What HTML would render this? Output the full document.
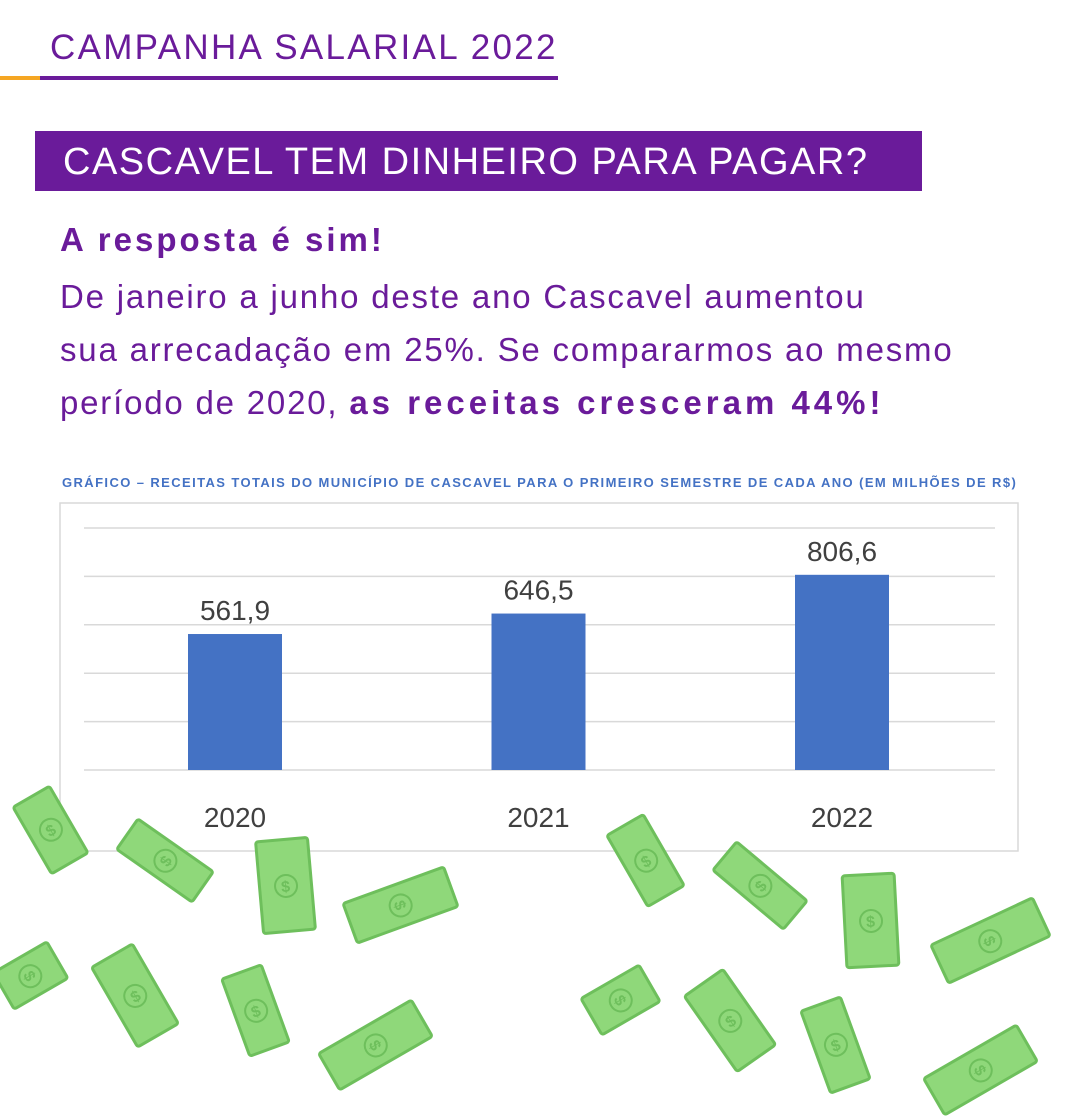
<!DOCTYPE html>
<html><head><meta charset="utf-8"><style>
body{margin:0;width:1080px;height:1080px;background:#fff;position:relative;overflow:hidden;font-family:"Liberation Sans",sans-serif}
.abs{position:absolute}
.bill{position:absolute;background:#8fd87a;border:3px solid #6ebf5c;border-radius:4px;box-sizing:border-box}
.bill::after{content:"$";position:absolute;left:50%;top:50%;width:24px;height:24px;margin:-12px 0 0 -12px;border:2px solid #6ebf5c;border-radius:50%;color:#6ebf5c;font:bold 16px "Liberation Sans";text-align:center;line-height:24px;box-sizing:border-box}
</style></head><body>
<div class="abs" style="left:50px;top:28px;font-size:35px;color:#6a1b9a;letter-spacing:2.3px">CAMPANHA SALARIAL 2022</div>
<div class="abs" style="left:0;top:76px;width:40px;height:4px;background:#f5a623"></div>
<div class="abs" style="left:40px;top:76px;width:518px;height:4px;background:#6a1b9a"></div>
<div class="abs" style="left:35px;top:131px;width:887px;height:60px;background:#6a1b9a;color:#fff;font-size:38px;line-height:62px;padding-left:28px;box-sizing:border-box;letter-spacing:1.5px;white-space:nowrap">CASCAVEL TEM DINHEIRO PARA PAGAR?</div>
<div class="abs" style="left:60px;top:221px;font-size:33px;font-weight:bold;color:#6a1b9a;letter-spacing:3px">A resposta é sim!</div>
<div class="abs" style="left:60px;top:270px;font-size:33px;line-height:53px;color:#6a1b9a;width:1020px;letter-spacing:1.8px;white-space:nowrap">De janeiro a junho deste ano Cascavel aumentou<br>sua arrecadação em 25%. Se compararmos ao mesmo<br>período de 2020, <b style="letter-spacing:4px">as receitas cresceram 44%!</b></div>
<div class="abs" style="left:62px;top:475px;font-size:13px;font-weight:bold;color:#4472c4;white-space:nowrap;letter-spacing:1.4px">GRÁFICO – RECEITAS TOTAIS DO MUNICÍPIO DE CASCAVEL PARA O PRIMEIRO SEMESTRE DE CADA ANO (EM MILHÕES DE R$)</div>
<svg class="abs" style="left:0;top:0" width="1080" height="1080" id="chart">
<rect x="60" y="503" width="958" height="348" fill="#fff" stroke="#d9d9d9" stroke-width="1.5"/>
</svg>
<div id="bills"></div>
<script>
const categories=["2020","2021","2022"];
const values=[561.9,646.5,806.6];
const valueLabels=["561,9","646,5","806,6"];
const gridTicks=[0,200,400,600,800,1000];
const svg=document.getElementById('chart');const NS='http://www.w3.org/2000/svg';
const y=v=>770-v*0.242;const x=i=>235+i*303.5;
function mk(t,a){const e=document.createElementNS(NS,t);for(const k in a)e.setAttribute(k,a[k]);svg.appendChild(e);return e;}
gridTicks.forEach(t=>{const l=mk('line',{x1:84,x2:995,y1:y(t),y2:y(t),stroke:'#d9d9d9','stroke-width':1.5});

});
values.forEach((v,i)=>{
const r=mk('rect',{x:x(i)-47,y:y(v),width:94,height:770-y(v),fill:'#4472c4'});


const t=mk('text',{x:x(i),y:y(v)-14,'text-anchor':'middle','font-size':28,fill:'#404040','font-family':'Liberation Sans'});t.textContent=valueLabels[i];


const c=mk('text',{x:x(i),y:827,'text-anchor':'middle','font-size':28,fill:'#404040','font-family':'Liberation Sans'});c.textContent=categories[i];


});
const B=[[50,830,45,80,-30],[165,860,40,95,-55],[285,885,55,95,-5],[400,905,45,110,70],[30,975,45,65,60],[135,995,50,95,-30],[255,1010,45,85,-20],[375,1045,45,110,60],
[645,860,45,85,-30],[760,885,40,95,-50],[870,920,55,95,-3],[990,940,45,115,65],[620,1000,45,70,60],[730,1020,50,95,-35],[835,1045,45,90,-20],[980,1070,45,110,60]];
const bd=document.getElementById('bills');
B.forEach(b=>{const d=document.createElement('div');d.className='bill';


d.style.cssText=`left:${b[0]-b[2]/2}px;top:${b[1]-b[3]/2}px;width:${b[2]}px;height:${b[3]}px;transform:rotate(${b[4]}deg)`;bd.appendChild(d);});
</script>
</body></html>
